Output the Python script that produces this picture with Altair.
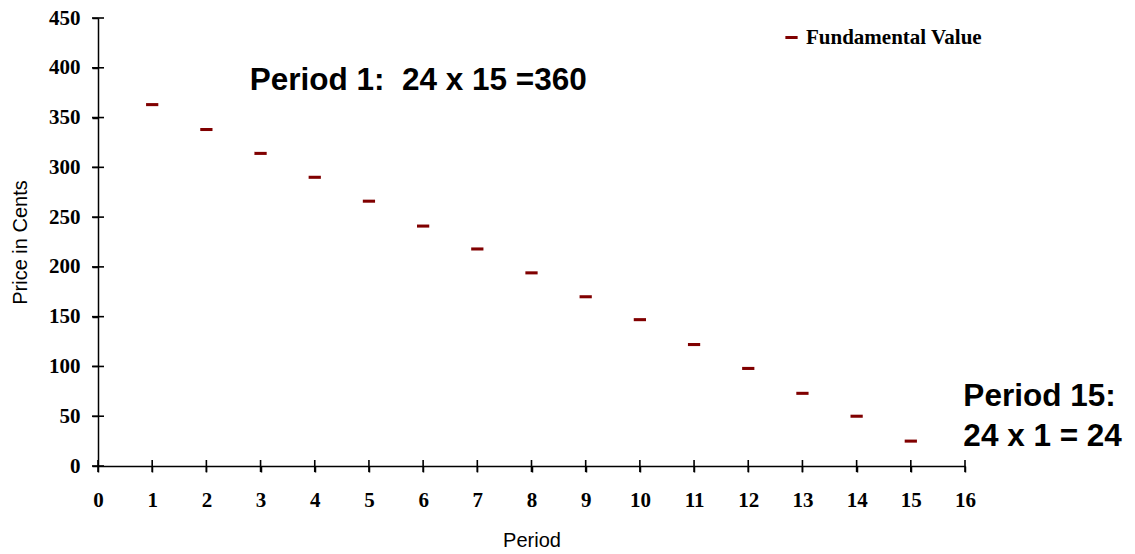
import altair as alt
import pandas as pd

periods = list(range(1, 16))
fundamental = [363, 338, 314, 290, 266, 241, 218, 194, 170, 147, 122, 98, 73, 50, 25]
series_name = "Fundamental Value"

x_ticks = list(range(0, 17))
y_ticks = list(range(0, 451, 50))

ann_text = ["Period 1:\u00a0 24 x 15 =360", "Period 15:", "24 x 1 = 24"]
ann_x = [2.8, 15.97, 15.97]
ann_y = [378, 60, 20]

df = pd.DataFrame({"period": periods, "value": fundamental, "series": [series_name] * len(periods)})
xt = pd.DataFrame({"x": x_ticks, "y": [0] * len(x_ticks)})
yt = pd.DataFrame({"x": [0] * len(y_ticks), "y": y_ticks})
ann = pd.DataFrame({"text": ann_text, "x": ann_x, "y": ann_y})

xscale = alt.Scale(domain=[0, 16], nice=False, zero=False)
yscale = alt.Scale(domain=[0, 450], nice=False)

xaxis = alt.Axis(values=x_ticks, title="Period", grid=False, tickSize=6, tickWidth=1.5,
                 domainWidth=1.5, domainColor="black", tickColor="black",
                 labelFont="Liberation Serif", labelFontWeight="bold", labelFontSize=21,
                 labelColor="black", labelPadding=17, labelFlush=False,
                 titleFont="Liberation Sans", titleFontWeight="normal", titleFontSize=20,
                 titleColor="black", titlePadding=20)
yaxis = alt.Axis(values=y_ticks, title="Price in Cents", grid=False, tickSize=6, tickWidth=1.5,
                 domainWidth=1.5, domainColor="black", tickColor="black",
                 labelFont="Liberation Serif", labelFontWeight="bold", labelFontSize=21,
                 labelColor="black", labelPadding=12,
                 titleFont="Liberation Sans", titleFontWeight="normal", titleFontSize=20,
                 titleColor="black", titleX=-78, titleY=224, titleAlign="center",
                 titleBaseline="middle")

dash = "M-1,-0.25H1V0.25H-1Z"

points = alt.Chart(df).mark_point(shape=dash, filled=True, size=150, opacity=1).encode(
    x=alt.X("period:Q", scale=xscale, axis=xaxis),
    y=alt.Y("value:Q", scale=yscale, axis=yaxis),
    color=alt.Color("series:N", scale=alt.Scale(range=["#800000"]),
                    legend=alt.Legend(title=None, orient="none", legendX=683, legendY=9,
                                      symbolType=dash, symbolSize=150, symbolStrokeWidth=0,
                                      labelFont="Liberation Serif", labelFontWeight="bold",
                                      labelFontSize=21, labelColor="black", labelOffset=4,
                                      labelLimit=400)),
)

xtick_marks = alt.Chart(xt).mark_rule(color="black", strokeWidth=1.6, yOffset=-6, y2Offset=6).encode(
    x=alt.X("x:Q", scale=xscale), y=alt.Y("y:Q", scale=yscale), y2="y")
ytick_marks = alt.Chart(yt).mark_rule(color="black", strokeWidth=1.6, xOffset=-6, x2Offset=6).encode(
    x=alt.X("x:Q", scale=xscale), x2="x", y=alt.Y("y:Q", scale=yscale))

texts = alt.Chart(ann).mark_text(align="left", baseline="alphabetic", font="Liberation Sans",
                                 fontWeight="bold", fontSize=31.5, color="black").encode(
    x=alt.X("x:Q", scale=xscale), y=alt.Y("y:Q", scale=yscale), text="text:N")

chart = alt.layer(xtick_marks, ytick_marks, points, texts).properties(
    width=867, height=448,
    background="white",
    autosize=alt.AutoSizeParams(type="none"),
    padding={"left": 98, "top": 18, "right": 170, "bottom": 88},
).configure_view(stroke=None, strokeWidth=0)

chart.save("out.html", embed_options={"renderer": "svg", "actions": False})
